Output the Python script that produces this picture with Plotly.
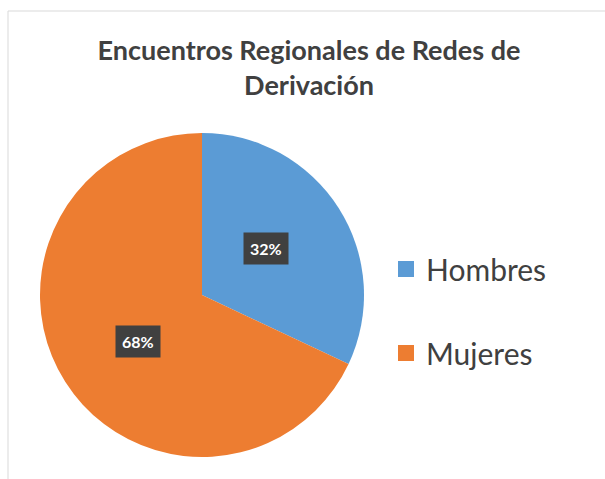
import math
import plotly.graph_objects as go

categories = ["Hombres", "Mujeres"]
values = [32, 68]
colors = ["#5B9BD5", "#ED7D31"]
title_text = "Encuentros Regionales de Redes de<br>Derivación"

W, H = 605, 479
# pie placement (pixels)
cx, cy, D = 202, 295, 324
dom_x = [(cx - D / 2) / W, (cx + D / 2) / W]
dom_y = [(H - cy - D / 2) / H, (H - cy + D / 2) / H]

fig = go.Figure()
fig.add_trace(go.Pie(
    labels=categories, values=values, sort=False, direction="clockwise", rotation=0,
    marker=dict(colors=colors, line=dict(width=0)),
    textinfo="none", hoverinfo="label+percent", showlegend=False,
    domain=dict(x=dom_x, y=dom_y),
))

# legend entries
for lab, col in zip(categories, colors):
    fig.add_trace(go.Scatter(x=[None], y=[None], mode="markers", name=lab, legendgroup=lab,
                             marker=dict(symbol="square", size=18, color=col)))

# data labels in dark boxes inside each slice
total = sum(values)
cum = 0
for v in values:
    mid = (cum + v / 2) / total * 2 * math.pi
    cum += v
    px = cx + 0.47 * (D / 2) * math.sin(mid)
    py = cy - 0.54 * (D / 2) * math.cos(mid)
    fig.add_annotation(x=px / W, y=1 - py / H, xref="paper", yref="paper",
                       xanchor="center", yanchor="middle",
                       text="<b>%d%%</b>" % round(v / total * 100), showarrow=False,
                       font=dict(family="Lato", size=16, color="white"),
                       bgcolor="#404040", borderpad=6)

fig.add_shape(type="rect", xref="paper", yref="paper", x0=8 / W, x1=1.02, y0=-0.02, y1=1 - 11 / H,
              line=dict(color="#D9D9D9", width=1), fillcolor="rgba(0,0,0,0)", layer="below")

fig.update_layout(
    width=W, height=H, margin=dict(l=0, r=0, t=0, b=0),
    paper_bgcolor="white", plot_bgcolor="white",
    title=dict(text="<b>%s</b>" % title_text, x=309 / W, xanchor="center", y=1 - 60 / H, yanchor="top",
               font=dict(family="Lato", size=27, color="#404040")),
    xaxis=dict(visible=False), yaxis=dict(visible=False),
    legend=dict(x=386 / W, xanchor="left", y=1 - 311 / H, yanchor="middle",
                font=dict(family="Lato", size=30, color="#404040"),
                tracegroupgap=42, traceorder="grouped", itemsizing="trace",
                bgcolor="rgba(0,0,0,0)"),
)

fig.write_html("out.html", config={"displayModeBar": False},
               post_script="document.body.style.margin='0';")
